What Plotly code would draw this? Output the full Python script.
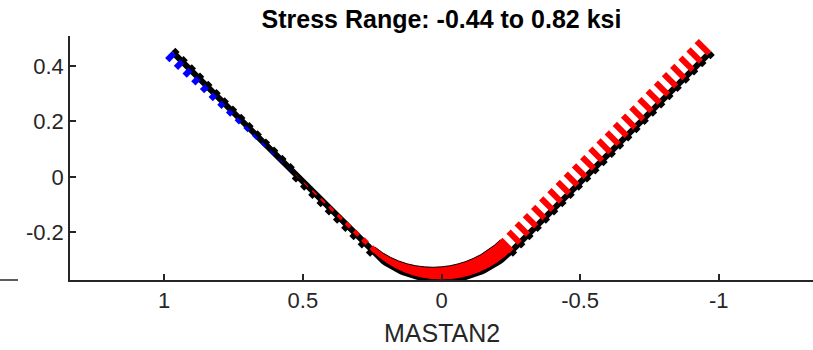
import numpy as np
import plotly.graph_objects as go

# ---------------- data ----------------
TITLE = "Stress Range: -0.44 to 0.82 ksi"
X_LABEL = "MASTAN2"
X_TICKS = [1, 0.5, 0, -0.5, -1]
X_TICK_LABELS = ["1", "0.5", "0", "-0.5", "-1"]
Y_TICKS = [0.4, 0.2, 0, -0.2]
Y_TICK_LABELS = ["0.4", "0.2", "0", "-0.2"]

# structure geometry (V-shaped member with a circular fillet at the bottom)
ARM_END_X = 0.965
ARM_END_Y = 0.445
FILLET_CENTER_X = 0.0
FILLET_CENTER_Y = -0.015
FILLET_RADIUS = 0.357

# stresses (ksi) at nodes
LEFT_ARM_STRESS = [-0.44, -0.41, -0.38, -0.35, -0.32, -0.29, -0.26, -0.23, -0.20,
                   -0.17, -0.14, -0.11, -0.08, -0.05, -0.02, 0.02, 0.05, 0.08,
                   0.10, 0.13, 0.15, 0.18, 0.20, 0.23, 0.25]
FILLET_STRESS = [0.25, 0.29, 0.34, 0.39, 0.44, 0.49, 0.54, 0.58, 0.62, 0.65,
                 0.68, 0.70, 0.72, 0.73, 0.74, 0.74, 0.74]
RIGHT_ARM_STRESS = [0.74, 0.74, 0.75, 0.75, 0.75, 0.76, 0.76, 0.76, 0.77, 0.77,
                    0.77, 0.78, 0.78, 0.78, 0.79, 0.79, 0.79, 0.80, 0.80, 0.80,
                    0.81, 0.81, 0.81, 0.82, 0.82]

# ---------------- styling constants ----------------
PX = 1 / 277.3                 # data units per pixel
DIAGRAM_SCALE = 17.5 * PX / 0.82
TOOTH = 5 * PX
AXIS_COLOR = "#262626"
FONT = "Liberation Sans, Arial, sans-serif"

# ---------------- geometry ----------------
s45 = np.sin(np.pi / 4)
TL = np.array([FILLET_CENTER_X + FILLET_RADIUS * s45, FILLET_CENTER_Y - FILLET_RADIUS * s45])
TR = np.array([FILLET_CENTER_X - FILLET_RADIUS * s45, FILLET_CENTER_Y - FILLET_RADIUS * s45])
LEND = np.array([ARM_END_X, ARM_END_Y])
REND = np.array([-ARM_END_X, ARM_END_Y])

t = np.linspace(0, 1, len(LEFT_ARM_STRESS))[:, None]
left_pts = LEND + (TL - LEND) * t
left_n = np.tile(np.array([-1.0, 1.0]) / np.sqrt(2), (len(left_pts), 1))

t = np.linspace(0, 1, len(RIGHT_ARM_STRESS))[:, None]
right_pts = TR + (REND - TR) * t
right_n = np.tile(np.array([1.0, 1.0]) / np.sqrt(2), (len(right_pts), 1))

phi = np.linspace(np.pi / 4, -np.pi / 4, len(FILLET_STRESS))
arc_pts = np.column_stack([FILLET_CENTER_X + FILLET_RADIUS * np.sin(phi),
                           FILLET_CENTER_Y - FILLET_RADIUS * np.cos(phi)])
arc_n = np.column_stack([-np.sin(phi), np.cos(phi)])

phi_f = np.linspace(np.pi / 4, -np.pi / 4, 61)
arc_fine = np.column_stack([FILLET_CENTER_X + FILLET_RADIUS * np.sin(phi_f),
                            FILLET_CENTER_Y - FILLET_RADIUS * np.cos(phi_f)])
member = np.vstack([LEND, arc_fine, REND])

fig = go.Figure()

# member
fig.add_trace(go.Scatter(x=member[:, 0], y=member[:, 1], mode="lines",
                         line=dict(color="black", width=6), hoverinfo="skip"))


def segs(points, normals, stresses, positive, teeth=False):
    xs, ys = [], []
    for p, n, s in zip(points, normals, stresses):
        if (s > 0) != positive or s == 0:
            continue
        if teeth:
            a = p
            b = p - n * TOOTH * (1 if positive else -1)
        else:
            a = p
            b = p + n * s * DIAGRAM_SCALE
        xs += [a[0], b[0], None]
        ys += [a[1], b[1], None]
    return xs, ys


arm_pts = np.vstack([left_pts, right_pts])
arm_n = np.vstack([left_n, right_n])
arm_s = LEFT_ARM_STRESS + RIGHT_ARM_STRESS

for positive in (True, False):
    tx, ty = segs(arm_pts, arm_n, arm_s, positive, teeth=True)
    fig.add_trace(go.Scatter(x=tx, y=ty, mode="lines",
                             line=dict(color="black", width=6), hoverinfo="skip"))

# fillet stress band
outer = arc_pts + arc_n * (np.array(FILLET_STRESS)[:, None] * DIAGRAM_SCALE)
poly = np.vstack([arc_pts, outer[::-1], arc_pts[:1]])
fig.add_trace(go.Scatter(x=poly[:, 0], y=poly[:, 1], mode="lines", fill="toself",
                         fillcolor="#ff0000", line=dict(color="black", width=1),
                         hoverinfo="skip"))

for positive, col in ((True, "#ff0000"), (False, "#0000ff")):
    rx, ry = segs(arm_pts, arm_n, arm_s, positive)
    fig.add_trace(go.Scatter(x=rx, y=ry, mode="lines",
                             line=dict(color=col, width=6), hoverinfo="skip"))

axis_common = dict(showline=True, linecolor=AXIS_COLOR, linewidth=1.5, mirror=False,
                   ticks="inside", ticklen=6, tickwidth=1.5, tickcolor=AXIS_COLOR,
                   showgrid=False, zeroline=False, automargin=False,
                   tickfont=dict(family=FONT, size=22, color=AXIS_COLOR))

fig.update_layout(
    width=813, height=350,
    margin=dict(l=70, r=0, t=36, b=70, autoexpand=False),
    plot_bgcolor="white", paper_bgcolor="white",
    showlegend=False,
    title=dict(text="<b>" + TITLE + "</b>", x=0.5, xref="paper", xanchor="center",
               y=1 - 19 / 350, yref="container", yanchor="middle",
               font=dict(family=FONT, size=25, color="black")),
    xaxis=dict(range=[1.3397, -1.3397], tickvals=X_TICKS, ticktext=X_TICK_LABELS,
               **axis_common),
    yaxis=dict(range=[-0.3718, 0.508], tickvals=Y_TICKS, ticktext=Y_TICK_LABELS,
               **axis_common),
    annotations=[dict(text=X_LABEL, xref="paper", yref="paper", x=0.5, y=-0.217,
                      xanchor="center", yanchor="middle", showarrow=False,
                      font=dict(family=FONT, size=25, color=AXIS_COLOR))],
    shapes=[dict(type="line", xref="paper", yref="paper", x0=-0.0942, x1=-0.070,
                 y0=0, y1=0, line=dict(color=AXIS_COLOR, width=1.5))],
)

fig.write_html("out.html",
               config={"displayModeBar": False},
               post_script="document.body.style.margin='0';"
                           "document.body.style.overflow='hidden';")
